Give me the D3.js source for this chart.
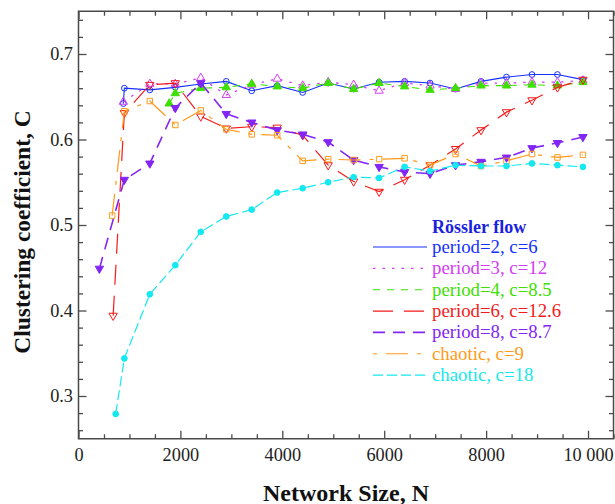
<!DOCTYPE html>
<html>
<head>
<meta charset="utf-8">
<script src="https://cdn.jsdelivr.net/npm/d3@7"></script>
<style>
  html, body { margin: 0; padding: 0; background: #fff; }
  svg { display: block; }
  svg text { font-family: "Liberation Serif", "Times New Roman", Times, "DejaVu Serif", serif !important; }
</style>
</head>
<body>
<svg id="chart" width="615" height="504"></svg>
<script>
// Network sizes and clustering coefficients, one pair of arrays per regime
const nP2 = [880, 900, 1400, 1900, 2400, 2900, 3400, 3900, 4400, 4900, 5400, 5900, 6400, 6900, 7400, 7900, 8400, 8900, 9400, 9900];
const cP2 = [0.642, 0.660, 0.658, 0.661, 0.665, 0.668, 0.657, 0.663, 0.655, 0.666, 0.659, 0.667, 0.668, 0.666, 0.659, 0.668, 0.673, 0.676, 0.676, 0.670];

const nP3 = [880, 1400, 1900, 2400, 2900, 3400, 3900, 4400, 4900, 5400, 5900, 6400, 6900, 7400, 7900, 8400, 8900, 9400, 9900];
const cP3 = [0.644, 0.665, 0.665, 0.672, 0.652, 0.664, 0.671, 0.663, 0.667, 0.664, 0.657, 0.666, 0.663, 0.659, 0.666, 0.666, 0.667, 0.667, 0.669];

const nP4 = [1780, 1900, 2400, 2900, 3400, 3900, 4400, 4900, 5400, 5900, 6400, 6900, 7400, 7900, 8400, 8900, 9400, 9900];
const cP4 = [0.642, 0.654, 0.660, 0.661, 0.665, 0.662, 0.660, 0.666, 0.659, 0.666, 0.662, 0.658, 0.660, 0.663, 0.663, 0.664, 0.663, 0.667];

const nP6 = [680, 900, 1400, 1900, 2400, 2900, 3400, 3900, 4400, 4900, 5400, 5900, 6400, 6900, 7400, 7900, 8400, 8900, 9400, 9900];
const cP6 = [0.394, 0.631, 0.664, 0.666, 0.627, 0.613, 0.615, 0.614, 0.605, 0.570, 0.551, 0.539, 0.553, 0.570, 0.589, 0.611, 0.632, 0.646, 0.661, 0.670];

const nP8 = [410, 900, 1400, 1900, 2400, 2900, 3400, 3900, 4400, 4900, 5400, 5900, 6400, 6900, 7400, 7900, 8400, 8900, 9400, 9900];
const cP8 = [0.449, 0.553, 0.572, 0.637, 0.666, 0.630, 0.620, 0.611, 0.606, 0.597, 0.576, 0.568, 0.562, 0.560, 0.570, 0.574, 0.579, 0.590, 0.596, 0.603];

const nC9 = [660, 900, 1400, 1900, 2400, 2900, 3400, 3900, 4400, 4900, 5400, 5900, 6400, 6900, 7400, 7900, 8400, 8900, 9400, 9900];
const cC9 = [0.511, 0.633, 0.645, 0.617, 0.634, 0.612, 0.606, 0.605, 0.575, 0.577, 0.576, 0.577, 0.578, 0.570, 0.583, 0.569, 0.575, 0.583, 0.579, 0.582];

const nC18 = [730, 900, 1400, 1900, 2400, 2900, 3400, 3900, 4400, 4900, 5400, 5900, 6400, 6900, 7400, 7900, 8400, 8900, 9400, 9900];
const cC18 = [0.279, 0.344, 0.419, 0.453, 0.492, 0.510, 0.518, 0.538, 0.543, 0.550, 0.556, 0.555, 0.568, 0.563, 0.570, 0.569, 0.569, 0.572, 0.570, 0.568];

const seriesLabels = ["period=2, c=6", "period=3, c=12", "period=4, c=8.5", "period=6, c=12.6", "period=8, c=8.7", "chaotic, c=9", "chaotic, c=18"];
const legendTitle = "Rössler flow";

const xTickValues = [0, 2000, 4000, 6000, 8000, 10000];
const xTickLabels = ["0", "2000", "4000", "6000", "8000", "10 000"];
const yTickValues = [0.3, 0.4, 0.5, 0.6, 0.7];
const yTickLabels = ["0.3", "0.4", "0.5", "0.6", "0.7"];

const xTitle = "Network Size, N";
const yTitle = "Clustering coefficient, C";

const serifStack = "'Liberation Serif', 'Times New Roman', Times, 'DejaVu Serif', serif";

// Styling for each regime
const styles = [
  { color: "#1530ff", dash: null,          width: 1.1, marker: "circle",   fill: false },
  { color: "#d43cf5", dash: "2.5,7",       width: 1.3, marker: "triUp",    fill: false },
  { color: "#3de000", dash: "7,7",         width: 1.1, marker: "triUp",    fill: true  },
  { color: "#f51a1a", dash: "20,11",       width: 1.2, marker: "triDown",  fill: false },
  { color: "#8325f5", dash: "12,8",        width: 1.6, marker: "triDown",  fill: true  },
  { color: "#ff9a1a", dash: "22,9,4,9",    width: 1.2, marker: "square",   fill: false },
  { color: "#14e8f0", dash: "10,4",        width: 1.2, marker: "dot",      fill: true  }
];
const seriesN = [nP2, nP3, nP4, nP6, nP8, nC9, nC18];
const seriesC = [cP2, cP3, cP4, cP6, cP8, cC9, cC18];

const svg = d3.select("#chart");
const plotLeft = 78.5, plotRight = 613.5, plotTop = 11.25, plotBottom = 438.75;

const x = d3.scaleLinear().domain([0, 10500]).range([plotLeft, plotRight]);
const y = d3.scaleLinear().domain([0.25, 0.75]).range([plotBottom, plotTop]);

const axisColor = "#4a4a4a";

// Axes: ticks point inward on all four sides
const xMinor = d3.range(0, 10501, 500).filter(v => v % 2000 !== 0);
const yMinor = d3.range(26, 75, 2).map(v => v / 100).filter(v => Math.round(v * 100) % 10 !== 0);

function styleAxis(g) {
  g.attr("font-family", null);
  g.select(".domain").remove();
  g.selectAll(".tick line").attr("stroke", axisColor).attr("stroke-width", 1.3);
  g.selectAll("text").attr("font-size", 18.3).attr("fill", "#222")
    .style("font-family", serifStack);
}

svg.append("g").attr("transform", `translate(0,${plotBottom})`)
  .call(d3.axisBottom(x).tickValues(xTickValues).tickFormat((d, i) => xTickLabels[i]).tickSize(-8).tickPadding(9))
  .call(styleAxis);
svg.append("g").attr("transform", `translate(0,${plotBottom})`)
  .call(d3.axisBottom(x).tickValues(xMinor).tickFormat("").tickSize(-4.5))
  .call(styleAxis);
svg.append("g").attr("transform", `translate(0,${plotTop})`)
  .call(d3.axisTop(x).tickValues(xTickValues).tickFormat("").tickSize(-8))
  .call(styleAxis);
svg.append("g").attr("transform", `translate(0,${plotTop})`)
  .call(d3.axisTop(x).tickValues(xMinor).tickFormat("").tickSize(-4.5))
  .call(styleAxis);

svg.append("g").attr("transform", `translate(${plotLeft},0)`)
  .call(d3.axisLeft(y).tickValues(yTickValues).tickFormat((d, i) => yTickLabels[i]).tickSize(-8).tickPadding(5.5))
  .call(styleAxis);
svg.append("g").attr("transform", `translate(${plotLeft},0)`)
  .call(d3.axisLeft(y).tickValues(yMinor).tickFormat("").tickSize(-4.5))
  .call(styleAxis);
svg.append("g").attr("transform", `translate(${plotRight},0)`)
  .call(d3.axisRight(y).tickValues(yTickValues).tickFormat("").tickSize(-8))
  .call(styleAxis);
svg.append("g").attr("transform", `translate(${plotRight},0)`)
  .call(d3.axisRight(y).tickValues(yMinor).tickFormat("").tickSize(-4.5))
  .call(styleAxis);

// Plot frame
svg.append("rect")
  .attr("x", plotLeft).attr("y", plotTop)
  .attr("width", plotRight - plotLeft).attr("height", plotBottom - plotTop)
  .attr("fill", "none").attr("stroke", axisColor).attr("stroke-width", 1.5);

// Axis titles
svg.append("text")
  .attr("x", 346).attr("y", 500.5)
  .attr("text-anchor", "middle").attr("font-size", 24).attr("font-weight", "bold")
  .style("font-family", serifStack)
  .attr("fill", "#111").text(xTitle);
svg.append("text")
  .attr("transform", "translate(30,232) rotate(-90)")
  .attr("text-anchor", "middle").attr("font-size", 23.5).attr("font-weight", "bold")
  .style("font-family", serifStack)
  .attr("fill", "#111").text(yTitle);

// Marker shapes
function markerPath(kind) {
  if (kind === "circle") return d3.symbol(d3.symbolCircle, 26)();
  if (kind === "dot") return d3.symbol(d3.symbolCircle, 26)();
  if (kind === "square") return d3.symbol(d3.symbolSquare, 30)();
  return d3.symbol(d3.symbolTriangle, 30)();
}

const line = d3.line().x(d => x(d[0])).y(d => y(d[1]));

const plot = svg.append("g");
seriesN.forEach((ns, i) => {
  const st = styles[i];
  const pts = ns.map((n, j) => [n, seriesC[i][j]]);
  plot.append("path")
    .datum(pts)
    .attr("d", line)
    .attr("fill", "none")
    .attr("stroke", st.color)
    .attr("stroke-width", st.width)
    .attr("stroke-dasharray", st.dash);
  plot.append("g").selectAll("path")
    .data(pts)
    .join("path")
    .attr("d", markerPath(st.marker))
    .attr("transform", d => `translate(${x(d[0])},${y(d[1])})` + (st.marker === "triDown" ? " rotate(180)" : ""))
    .attr("fill", st.fill ? st.color : "#fff")
    .attr("fill-opacity", st.fill ? 1 : 0)
    .attr("stroke", st.color)
    .attr("stroke-width", 1);
});

// Legend
const legend = svg.append("g");
legend.append("text")
  .attr("x", 432).attr("y", 232.5)
  .attr("font-size", 18).attr("font-weight", "bold")
  .style("font-family", serifStack)
  .attr("fill", "#1a22e0").text(legendTitle);

const rowY0 = 247, rowStep = 21.35;
seriesLabels.forEach((lab, i) => {
  const st = styles[i];
  const yy = rowY0 + i * rowStep;
  legend.append("line")
    .attr("x1", 373).attr("x2", 427).attr("y1", yy).attr("y2", yy)
    .attr("stroke", st.color)
    .attr("stroke-width", st.width)
    .attr("stroke-dasharray", st.dash)
    .attr("stroke-dashoffset", i === 5 ? 31 : 0);
  legend.append("text")
    .attr("x", 432).attr("y", yy + 6)
    .attr("font-size", 18.8)
    .style("font-family", serifStack)
    .attr("fill", st.color).text(lab);
});
</script>
</body>
</html>
